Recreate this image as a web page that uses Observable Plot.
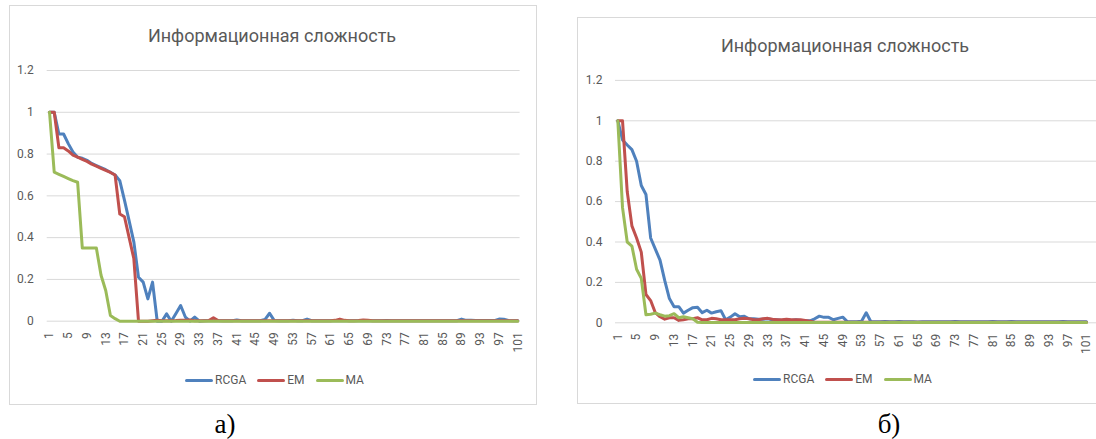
<!DOCTYPE html>
<html>
<head>
<meta charset="utf-8">
<script src="https://cdn.jsdelivr.net/npm/d3@7"></script>
<script src="https://cdn.jsdelivr.net/npm/@observablehq/plot@0.6"></script>
<style>
  body { margin: 0; background: #fff; }
  #root { position: relative; width: 1096px; height: 439px; overflow: hidden; font-family: Roboto, sans-serif; color: #595959; background: #fff; }
  .box { position: absolute; border: 1px solid #D9D9D9; box-sizing: border-box; }
  .title { position: absolute; font-size: 18px; white-space: nowrap; transform: translate(-50%, -50%); color: #595959; }
  .plot { position: absolute; top: 0; }
  .legend { position: absolute; display: flex; align-items: center; font-size: 12px; transform: translateY(-50%); color: #595959; }
  .legend .item { display: flex; align-items: center; margin-right: 11px; }
  .legend .sw { width: 28px; height: 3px; margin-right: 2px; border-radius: 1.5px; }
  .cap { position: absolute; font-family: "Liberation Serif", "Times New Roman", serif; font-size: 27px; color: #000; transform: translate(-50%, -50%); }
</style>
</head>
<body>
<div id="root"></div>
<script>
// ---------- data ----------
const chartTitle = "Информационная сложность";
const seriesNames = ["RCGA", "EM", "MA"];
const seriesColors = ["#4F81BD", "#C0504D", "#9BBB59"];
const iterations = d3.range(1, 102); // categories 1..101
const xTickLabels = [1,5,9,13,17,21,25,29,33,37,41,45,49,53,57,61,65,69,73,77,81,85,89,93,97,101];
const yTickLabels = [0, 0.2, 0.4, 0.6, 0.8, 1, 1.2];
const captions = ["а)", "б)"];

// chart a)
const rcgaA = [1.0,1.0,0.896,0.896,0.85,0.81,0.785,0.78,0.77,0.755,
  0.745,0.735,0.725,0.713,0.70,0.673,0.58,0.48,0.38,0.21,
  0.187,0.107,0.187,0.0,0.0,0.035,0.0,0.037,0.075,0.02,
  0.0,0.02,0.0,0.002,0.002,0.002,0.002,0.002,0.002,0.002,
  0.006,0.002,0.002,0.002,0.002,0.002,0.008,0.038,0.003,0.002,
  0.002,0.002,0.005,0.002,0.002,0.01,0.002,0.002,0.002,0.002,
  0.002,0.002,0.002,0.002,0.002,0.002,0.002,0.002,0.002,0.002,
  0.002,0.002,0.003,0.002,0.002,0.002,0.002,0.002,0.002,0.002,
  0.002,0.002,0.002,0.002,0.002,0.002,0.002,0.002,0.01,0.004,
  0.005,0.003,0.003,0.003,0.003,0.003,0.01,0.009,0.003,0.002,0.002];
const emA = [1.0,1.0,0.83,0.83,0.815,0.795,0.785,0.775,0.765,0.752,
  0.742,0.732,0.722,0.712,0.70,0.513,0.50,0.40,0.30,0.0,
  0.0,0.0,0.002,0.004,0.002,0.002,0.002,0.003,0.005,0.004,
  0.006,0.002,0.002,0.002,0.003,0.016,0.003,0.002,0.002,0.002,
  0.002,0.002,0.002,0.002,0.002,0.002,0.002,0.002,0.002,0.002,
  0.002,0.002,0.002,0.002,0.002,0.002,0.002,0.002,0.002,0.002,
  0.002,0.004,0.01,0.004,0.002,0.002,0.003,0.006,0.004,0.002,
  0.002,0.002,0.002,0.002,0.002,0.002,0.002,0.002,0.002,0.002,
  0.002,0.002,0.002,0.002,0.002,0.002,0.002,0.002,0.002,0.002,
  0.002,0.002,0.002,0.002,0.002,0.002,0.002,0.002,0.002,0.002,0.002];
const maA = [1.0,0.713,0.703,0.693,0.683,0.673,0.665,0.35,0.35,0.35,
  0.35,0.22,0.147,0.027,0.012,0.0,0.0,0.0,0.0,0.0,
  0.0,0.0,0.0,0.0,0.0,0.0,0.0,0.0,0.0,0.0,
  0.0,0.0,0.0,0.0,0.0,0.0,0.0,0.0,0.0,0.0,
  0.0,0.0,0.0,0.0,0.0,0.0,0.0,0.0,0.0,0.0,
  0.0,0.0,0.0,0.0,0.0,0.0,0.0,0.0,0.0,0.0,
  0.0,0.0,0.0,0.0,0.0,0.0,0.0,0.0,0.0,0.0,
  0.0,0.0,0.0,0.0,0.0,0.0,0.0,0.0,0.0,0.0,
  0.0,0.0,0.0,0.0,0.0,0.0,0.0,0.0,0.0,0.0,
  0.0,0.0,0.0,0.0,0.0,0.0,0.0,0.0,0.0,0.0,0.0];

// chart б)
const rcgaB = [1.0,0.905,0.88,0.857,0.80,0.68,0.635,0.42,0.365,0.31,
  0.21,0.12,0.08,0.08,0.048,0.062,0.075,0.077,0.05,0.062,
  0.048,0.055,0.06,0.015,0.028,0.045,0.03,0.032,0.02,0.02,
  0.018,0.018,0.02,0.015,0.015,0.012,0.015,0.012,0.015,0.012,
  0.01,0.01,0.02,0.033,0.027,0.027,0.015,0.022,0.028,0.005,
  0.005,0.005,0.008,0.05,0.005,0.005,0.005,0.006,0.005,0.005,
  0.007,0.005,0.005,0.005,0.004,0.005,0.005,0.005,0.005,0.005,
  0.005,0.005,0.007,0.005,0.005,0.005,0.005,0.005,0.005,0.005,
  0.006,0.005,0.005,0.005,0.006,0.005,0.005,0.005,0.005,0.005,
  0.005,0.005,0.005,0.005,0.005,0.007,0.005,0.005,0.005,0.005,0.005];
const emB = [1.0,1.0,0.65,0.48,0.42,0.35,0.14,0.11,0.05,0.03,
  0.018,0.025,0.025,0.012,0.015,0.02,0.02,0.025,0.015,0.015,
  0.022,0.02,0.015,0.015,0.015,0.015,0.02,0.022,0.02,0.015,
  0.015,0.02,0.022,0.018,0.015,0.015,0.018,0.015,0.015,0.015,
  0.012,0.008,0.003,0.003,0.003,0.003,0.003,0.003,0.003,0.003,
  0.003,0.003,0.003,0.003,0.003,0.003,0.003,0.003,0.003,0.003,
  0.003,0.003,0.003,0.003,0.003,0.003,0.003,0.003,0.003,0.003,
  0.003,0.003,0.003,0.003,0.003,0.003,0.003,0.003,0.003,0.003,
  0.003,0.003,0.003,0.003,0.003,0.003,0.003,0.003,0.003,0.003,
  0.003,0.003,0.003,0.003,0.003,0.003,0.003,0.003,0.003,0.003,0.003];
const maB = [1.0,0.57,0.40,0.38,0.265,0.22,0.04,0.042,0.048,0.04,
  0.033,0.035,0.045,0.025,0.03,0.025,0.02,0.003,0.002,0.002,
  0.002,0.002,0.002,0.002,0.002,0.002,0.002,0.002,0.002,0.002,
  0.002,0.002,0.002,0.002,0.002,0.002,0.002,0.002,0.002,0.002,
  0.002,0.002,0.002,0.002,0.002,0.002,0.002,0.002,0.002,0.002,
  0.002,0.002,0.002,0.002,0.002,0.002,0.002,0.002,0.002,0.002,
  0.002,0.002,0.002,0.002,0.002,0.002,0.002,0.002,0.002,0.002,
  0.002,0.002,0.002,0.002,0.002,0.002,0.002,0.002,0.002,0.002,
  0.002,0.002,0.002,0.002,0.002,0.002,0.002,0.002,0.002,0.002,
  0.002,0.002,0.002,0.002,0.002,0.002,0.002,0.002,0.002,0.002,0.002];

// ---------- rendering ----------
const root = document.getElementById("root");

function el(cls, style, html) {
  const d = document.createElement("div");
  d.className = cls;
  Object.assign(d.style, style);
  if (html != null) d.textContent = html;
  root.appendChild(d);
  return d;
}

function makePlot(seriesValues, opts) {
  const rows = [];
  seriesValues.forEach((vals, s) => {
    vals.forEach((v, k) => rows.push({ it: iterations[k], v, series: seriesNames[s] }));
  });
  return Plot.plot({
    width: opts.width,
    height: opts.height,
    marginLeft: opts.marginLeft,
    marginRight: opts.marginRight,
    marginTop: opts.marginTop,
    marginBottom: opts.marginBottom,
    style: { fontFamily: "Roboto, sans-serif", fontSize: "12px", color: "#595959", background: "transparent", overflow: "visible" },
    x: { domain: [0.5, 101.5], axis: null, label: null },
    y: { domain: [0, 1.2], axis: null, label: null },
    color: { domain: seriesNames, range: seriesColors },
    marks: [
      Plot.gridY(yTickLabels, { stroke: "#D9D9D9", strokeOpacity: 1, strokeWidth: 1, insetRight: opts.gridInsetRight || 0 }),
      Plot.axisY(yTickLabels, { tickSize: 0, tickPadding: opts.yPad, tickFormat: d => String(d), fill: "#595959", fontSize: 12, label: null }),
      Plot.axisX(xTickLabels, { tickSize: 0, tickPadding: 11, tickRotate: -90, tickFormat: d => String(d), fill: "#595959", fontSize: 12, label: null }),
      Plot.lineY(rows, { x: "it", y: "v", z: "series", stroke: "series", strokeWidth: 3, strokeLinejoin: "round", strokeLinecap: "round" })
    ]
  });
}

function legend(x, y) {
  const lg = el("legend", { left: x + "px", top: y + "px" });
  seriesNames.forEach((n, i) => {
    const it = document.createElement("div");
    it.className = "item";
    const sw = document.createElement("div");
    sw.className = "sw";
    sw.style.background = seriesColors[i];
    const t = document.createElement("span");
    t.textContent = n;
    it.appendChild(sw); it.appendChild(t);
    lg.appendChild(it);
  });
}

// chart a)
el("box", { left: "9px", top: "5px", width: "528px", height: "400px" });
el("title", { left: "272px", top: "35px" }, chartTitle);
const pa = makePlot([rcgaA, emA, maA], { width: 537, height: 360, marginLeft: 46.7, marginRight: 17.4, marginTop: 70, marginBottom: 39.3, yPad: 13.5 });
const wa = el("plot", { left: "0px" });
wa.appendChild(pa);
legend(185, 380);
el("cap", { left: "225px", top: "424px" }, captions[0]);

// chart б)
el("box", { left: "577px", top: "17px", width: "540px", height: "387px" });
el("title", { left: "845px", top: "45px" }, chartTitle);
const pb = makePlot([rcgaB, emB, maB], { width: 536, height: 360, marginLeft: 55, marginRight: 7.7, marginTop: 79.9, marginBottom: 37.7, yPad: 13, gridInsetRight: -8 });
const wb = el("plot", { left: "560px" });
wb.appendChild(pb);
legend(753, 379);
el("cap", { left: "889px", top: "424px" }, captions[1]);
</script>
</body>
</html>
